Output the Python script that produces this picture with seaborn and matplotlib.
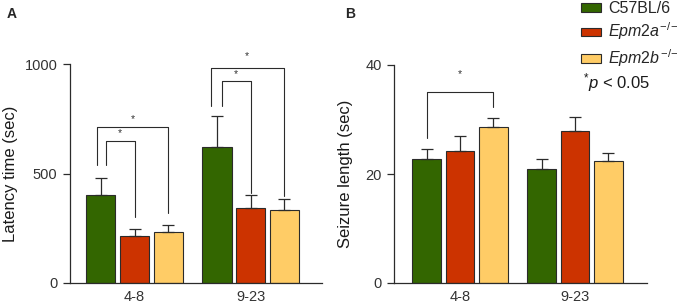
import numpy as np
import pandas as pd
import matplotlib
matplotlib.use('Agg')
import matplotlib.pyplot as plt
import seaborn as sns
from matplotlib.patches import Patch

# data
groups = ['4-8', '9-23']
strains = ['C57BL/6', 'Epm2a', 'Epm2b']
latency = [[402, 215, 233], [621, 342, 333]]
latency_err = [[78, 32, 32], [141, 60, 51]]
seizure = [[22.7, 24.2, 28.6], [20.9, 27.9, 22.4]]
seizure_err = [[1.9, 2.8, 1.7], [1.9, 2.6, 1.4]]
colors = ['#336600', '#cc3300', '#ffcc66']

sns.set_style('white')
plt.rcParams['font.family'] = ['Liberation Sans', 'DejaVu Sans']
plt.rcParams['mathtext.fontset'] = 'custom'
plt.rcParams['mathtext.rm'] = 'Liberation Sans'
plt.rcParams['mathtext.it'] = 'Liberation Sans:italic'

EDGE = '#2b2b2b'

def make_df(vals, errs):
    rows = []
    for gi, g in enumerate(groups):
        for si, s in enumerate(strains):
            rows.append({'age': g, 'strain': s, 'value': vals[gi][si], 'err': errs[gi][si]})
    return pd.DataFrame(rows)

def draw_panel(ax, df, ylim, yticks, ylabel, xlim, labelpad):
    sns.barplot(data=df, x='age', y='value', hue='strain', hue_order=strains,
                palette=colors, saturation=1, width=0.867, gap=0.134, errorbar=None,
                edgecolor=EDGE, linewidth=0.8, ax=ax, legend=False)
    # error bars (upper only)
    bar_conts = list(ax.containers)
    for si, cont in enumerate(bar_conts):
        sub = df[df['strain'] == strains[si]]
        for bar, (_, r) in zip(cont, sub.iterrows()):
            xc = bar.get_x() + bar.get_width() / 2
            ax.errorbar(xc, r['value'], yerr=[[0], [r['err']]], fmt='none',
                        ecolor=EDGE, elinewidth=0.9, capsize=4.5, capthick=0.9,
                        zorder=1)
    ax.set_ylim(*ylim)
    ax.set_xlim(*xlim)
    ax.set_yticks(yticks)
    ax.set_xlabel('')
    ax.set_ylabel(ylabel, fontsize=12, labelpad=labelpad, color='#1a1a1a')
    sns.despine(ax=ax)
    for sp in ['left', 'bottom']:
        ax.spines[sp].set_color(EDGE)
        ax.spines[sp].set_linewidth(0.9)
    ax.tick_params(axis='y', left=True, length=5, width=0.9, color=EDGE,
                   labelsize=10.5, pad=4, labelcolor='#333333')
    ax.tick_params(axis='x', length=0, labelsize=10.5, pad=5, labelcolor='#333333')

def bracket(ax, x1, x2, y_top, y1, y2, star_y):
    ax.plot([x1, x1, x2, x2], [y1, y_top, y_top, y2], color=EDGE, lw=0.8,
            clip_on=False)
    ax.text((x1 + x2) / 2, star_y, '*', ha='center', va='center', fontsize=7.5,
            color='#333333', clip_on=False)

fig = plt.figure(figsize=(6.8, 3.07), dpi=100)
axA = fig.add_axes([70 / 680, 1 - 283 / 307, 252 / 680, 219 / 307])
axB = fig.add_axes([394 / 680, 1 - 283 / 307, 253 / 680, 218 / 307])

draw_panel(axA, make_df(latency, latency_err), (0, 1000), [0, 500, 1000],
           'Latency time (sec)', (-0.556, 1.616), 5)
draw_panel(axB, make_df(seizure, seizure_err), (0, 40), [0, 20, 40],
           'Seizure length (sec)', (-0.574, 1.626), 9)

# significance brackets, panel A
d = 0.289
bracket(axA, -d - 0.035, d, 712, 539, 320, 750)
bracket(axA, -d + 0.04, 0, 648, 539, 301, 685)
bracket(axA, 1 - d - 0.055, 1 + d, 982, 808, 395, 1035)
bracket(axA, 1 - d + 0.04, 1, 922, 808, 410, 955)
# panel B
bracket(axB, -d, d, 35.0, 26.6, 32.3, 38.3)

fig.text(7 / 680, 1 - 14 / 307, 'A', fontsize=10, fontweight='bold', va='center')
fig.text(345 / 680, 1 - 14 / 307, 'B', fontsize=10, fontweight='bold', va='center')

handles = [Patch(facecolor=c, edgecolor=EDGE, linewidth=0.8) for c in colors]
labels = ['C57BL/6', r'$\mathit{Epm2a}^{\!-\!/\!-}$', r'$\mathit{Epm2b}^{\!-\!/\!-}$']
fig.legend(handles, labels, loc='upper left', bbox_to_anchor=(581 / 680, 1 - 1 / 307),
           frameon=False, fontsize=11.5, handlelength=1.25, handleheight=0.45,
           handletextpad=0.45, labelspacing=0.3, borderaxespad=0, borderpad=0)
fig.text(583 / 680, 1 - 83 / 307, r'$^{*}\mathit{p}$ < 0.05', fontsize=12,
         va='center', color='#1a1a1a')

fig.savefig('out.png', dpi=100)
